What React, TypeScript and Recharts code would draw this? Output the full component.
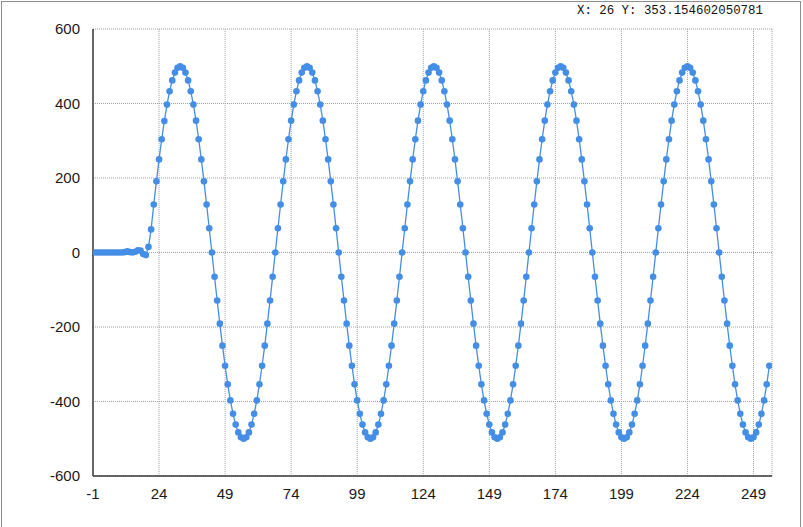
import React from "react";
import { LineChart, Line, XAxis, YAxis, CartesianGrid } from "recharts";

// Sample values (index 0..255)
const values: number[] = [
  0, 0, 0, 0, 0, 0, 0, 0, 0, 0, 0, 1, 3, 1, 0, 2, 6, 5, -4, -7,
  // cycle 1 (x = 20..67)
  15, 62, 129, 191, 250, 304, 353, 397, 433, 462, 483, 496,
  500, 496, 483, 462, 433, 397, 354, 304, 250, 191, 129, 65,
  0, -65, -129, -191, -250, -304, -354, -397, -433, -462, -483, -496,
  -500, -496, -483, -462, -433, -397, -354, -304, -250, -191, -129, -65,
  // cycle 2 (x = 68..115)
  0, 65, 129, 191, 250, 304, 354, 397, 433, 462, 483, 496,
  500, 496, 483, 462, 433, 397, 354, 304, 250, 191, 129, 65,
  0, -65, -129, -191, -250, -304, -354, -397, -433, -462, -483, -496,
  -500, -496, -483, -462, -433, -397, -354, -304, -250, -191, -129, -65,
  // cycle 3 (x = 116..163)
  0, 65, 129, 191, 250, 304, 354, 397, 433, 462, 483, 496,
  500, 496, 483, 462, 433, 397, 354, 304, 250, 191, 129, 65,
  0, -65, -129, -191, -250, -304, -354, -397, -433, -462, -483, -496,
  -500, -496, -483, -462, -433, -397, -354, -304, -250, -191, -129, -65,
  // cycle 4 (x = 164..211)
  0, 65, 129, 191, 250, 304, 354, 397, 433, 462, 483, 496,
  500, 496, 483, 462, 433, 397, 354, 304, 250, 191, 129, 65,
  0, -65, -129, -191, -250, -304, -354, -397, -433, -462, -483, -496,
  -500, -496, -483, -462, -433, -397, -354, -304, -250, -191, -129, -65,
  // partial cycle 5 (x = 212..255)
  0, 65, 129, 191, 250, 304, 354, 397, 433, 462, 483, 496,
  500, 496, 483, 462, 433, 397, 354, 304, 250, 191, 129, 65,
  0, -65, -129, -191, -250, -304, -354, -397, -433, -462, -483, -496,
  -500, -496, -483, -462, -433, -397, -354, -304,
];

const xTicks: number[] = [-1, 24, 49, 74, 99, 124, 149, 174, 199, 224, 249];
const yTicks: number[] = [-600, -400, -200, 0, 200, 400, 600];
const headerText = "X: 26 Y: 353.154602050781";

const data = values.map((v, i) => ({ x: i, y: v }));

const BLUE = "#448ee6";
const AXIS = "#3a3a3a";

export default function App() {
  return (
    <div style={{ position: "absolute", left: 0, top: 0, width: 803, height: 527, background: "#fff", overflow: "hidden" }}>
      <div
        style={{
          position: "absolute",
          left: 1,
          top: 1,
          width: 800,
          height: 560,
          border: "1px solid #8c8c8c",
          boxSizing: "border-box",
        }}
      />
      <div
        style={{
          position: "absolute",
          left: 577,
          top: 3,
          fontFamily: "'Liberation Mono', 'DejaVu Sans Mono', monospace",
          fontSize: 12.4,
          lineHeight: "16px",
          color: "#111",
          whiteSpace: "pre",
        }}
      >
        {headerText}
      </div>
      <div style={{ position: "absolute", left: 0, top: 0 }}>
        <LineChart width={803} height={527} data={data} margin={{ top: 29, right: 31, bottom: 21, left: 33 }}>
          <CartesianGrid stroke="#a0a0a0" strokeDasharray="1 1" />
          <XAxis
            type="number"
            dataKey="x"
            domain={[-1, 256]}
            ticks={xTicks}
            allowDataOverflow
            tickLine={false}
            tickMargin={6}
            height={30}
            axisLine={{ stroke: AXIS, strokeWidth: 1.5 }}
            tick={{ fill: "#1a1a1a", fontSize: 15, fontFamily: "'Liberation Sans', Arial, sans-serif" }}
            interval={0}
          />
          <YAxis
            type="number"
            domain={[-600, 600]}
            ticks={yTicks}
            allowDataOverflow
            tickLine={false}
            tickMargin={7}
            width={60}
            axisLine={{ stroke: AXIS, strokeWidth: 1.5 }}
            tick={{ fill: "#1a1a1a", fontSize: 15, fontFamily: "'Liberation Sans', Arial, sans-serif" }}
            interval={0}
          />
          <Line
            type="linear"
            dataKey="y"
            stroke={BLUE}
            strokeWidth={1.3}
            dot={{ r: 3.3, fill: BLUE, stroke: "none" }}
            activeDot={false}
            isAnimationActive={false}
          />
        </LineChart>
      </div>
    </div>
  );
}
